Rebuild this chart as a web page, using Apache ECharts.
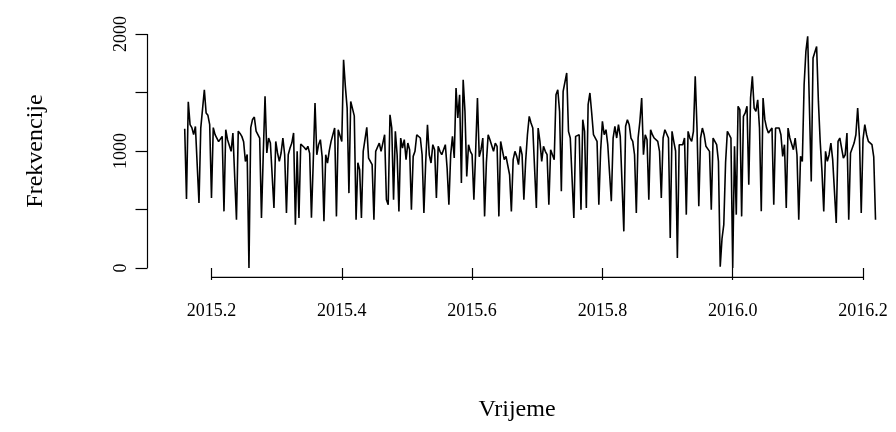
<!DOCTYPE html>
<html><head><meta charset="utf-8">
<script src="https://cdn.jsdelivr.net/npm/echarts@6/dist/echarts.min.js"></script>
<style>html,body{margin:0;padding:0;background:#fff}#c{width:896px;height:432px}</style>
</head><body><div id="c"></div>
<script>
const startYear = 2015;
const startDay = 58;
const daysPerYear = 365;
const values = [
1190,590,1420,1225,1200,1140,1210,1200,556,1196,
1196,1524,1325,1305,1225,598,1200,1140,1110,1080,
1068,1125,484,1182,1097,1111,997,1154,1140,413,
1170,1150,1125,1080,910,970,0,1200,1270,1290,
1170,1140,1110,427,968,1467,983,1111,1068,1082,
513,1082,983,911,983,1111,968,470,968,1025,
1068,1154,370,997,427,1060,1070,1030,1010,1040,
980,430,900,1410,968,1054,1097,950,399,968,
897,1003,1082,1082,1196,441,1182,1168,1082,1780,
1550,1367,640,1424,1410,1300,413,900,840,427,
997,1011,1202,940,911,883,413,997,1011,1068,
997,1068,1139,584,541,1310,1196,584,1168,968,
484,1111,1025,1097,926,1068,1011,498,954,997,
1139,1139,1111,968,470,900,1225,968,897,1054,
1011,598,1040,997,968,954,1054,854,541,968,
1125,940,1538,1282,1481,726,1609,1339,783,1054,
997,968,584,1000,1453,950,1011,1111,441,900,
1139,1097,1111,997,1068,1040,441,1082,1068,926,
954,940,797,484,926,997,954,883,1040,968,
584,911,1139,1296,1239,1196,854,513,1196,1082,
911,1040,997,968,541,1011,1025,926,1481,1524,
1339,655,1510,1524,1667,1168,1111,1111,427,1125,
1111,1139,498,1268,1168,513,1396,1496,1325,1139,
1139,1082,541,1000,1253,1139,1182,1054,1040,570,
1111,1211,1111,1225,1125,1139,313,1211,1268,1225,
1111,1082,968,470,1111,1253,1453,968,1139,1097,
584,1182,1139,1111,1097,1082,997,598,1111,1182,
1168,1111,256,1168,1080,1000,85,1054,1068,1054,
1111,456,1168,1111,1082,1168,1638,1196,527,1111,
1196,1139,1040,1025,997,498,1111,1125,1054,911,
10,250,370,900,1168,1139,1111,0,1040,456,
1382,1353,441,1296,1325,1382,712,1453,1638,1367,
1339,1438,1196,484,1453,1268,1196,1154,1139,1196,
541,1196,1211,1196,1139,954,1054,513,1196,1111,
1097,1011,1111,968,413,954,911,1567,1852,1980,
1994,740,1795,1780,1894,1424,1082,826,484,997,
911,968,1068,926,911,385,1082,1111,1097,940,
968,1154,413,983,997,1068,1139,1367,1111,470,
1100,1225,1139,1082,1082,1054,950,413
];
const xTicks = [2015.2, 2015.4, 2015.6, 2015.8, 2016.0, 2016.2];
const yTicks = [0, 500, 1000, 1500, 2000];
const yLabels = [0, 1000, 2000];
const xTitle = 'Vrijeme';
const yTitle = 'Frekvencije';

const points = values.map((v, i) => [startYear + (startDay + i) / daysPerYear, v]);
const XMIN = 2015.1018, XMAX = 2016.2368, YMIN = -79.76, YMAX = 2073.76;
const FONT = '"Liberation Serif", "Times New Roman", serif';

const chart = echarts.init(document.getElementById('c'), null, {renderer: 'canvas'});
chart.setOption({
  animation: false,
  backgroundColor: '#ffffff',
  grid: {left: 147.5, right: 9, top: 25.4, bottom: 154.7},
  xAxis: {
    type: 'value', min: XMIN, max: XMAX,
    axisLine: {show: false},
    splitLine: {show: false},
    axisTick: {show: true, customValues: xTicks, length: 12, lineStyle: {color: '#000', width: 1.2}},
    axisLabel: {show: true, customValues: xTicks, formatter: v => Number(v).toFixed(1),
      margin: 25, fontFamily: FONT, fontSize: 18, color: '#000'}
  },
  yAxis: {
    type: 'value', min: YMIN, max: YMAX,
    axisLine: {show: false},
    splitLine: {show: false},
    axisTick: {show: true, customValues: yTicks, length: 12, lineStyle: {color: '#000', width: 1.2}},
    axisLabel: {show: true, customValues: yLabels, rotate: 90, margin: 17,
      formatter: v => String(Math.round(v)),
      fontFamily: FONT, fontSize: 18, color: '#000'}
  },
  graphic: [
    {type: 'text', x: 517, y: 410, style: {text: xTitle, font: '24px ' + FONT, fill: '#000', textAlign: 'center', textVerticalAlign: 'middle'}},
    {type: 'text', x: 36, y: 151, rotation: Math.PI / 2, style: {text: yTitle, font: '24px ' + FONT, fill: '#000', textAlign: 'center', textVerticalAlign: 'middle'}}
  ],
  series: [
    {type: 'line', data: points, symbol: 'none', lineStyle: {color: '#000', width: 1.6}, silent: true},
    {type: 'line', data: [[xTicks[0], YMIN], [xTicks[xTicks.length - 1], YMIN]], symbol: 'none', clip: false,
      lineStyle: {color: '#000', width: 1.2}, silent: true},
    {type: 'line', data: [[XMIN, yTicks[0]], [XMIN, yTicks[yTicks.length - 1]]], symbol: 'none', clip: false,
      lineStyle: {color: '#000', width: 1.2}, silent: true}
  ]
});
</script></body></html>
